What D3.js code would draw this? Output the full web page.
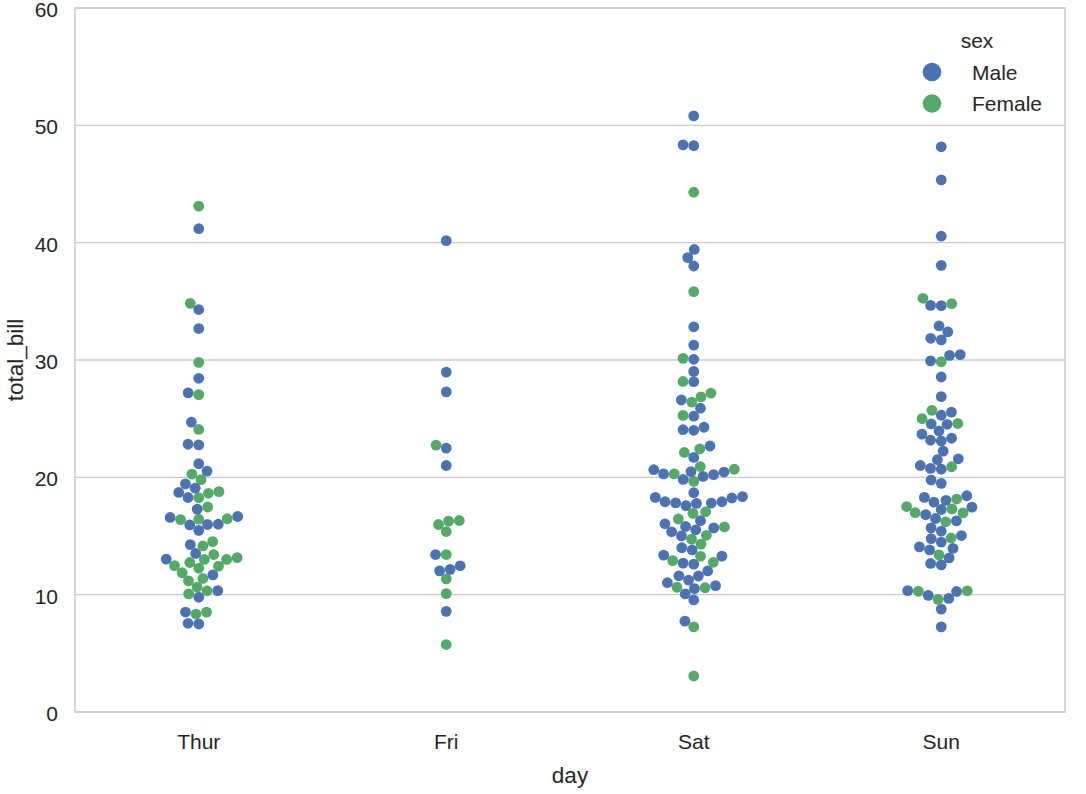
<!DOCTYPE html>
<html>
<head>
<meta charset="utf-8">
<script src="https://cdn.jsdelivr.net/npm/d3@7"></script>
<style>
  html, body { margin: 0; padding: 0; background: #fff; }
  svg { display: block; font-family: "Liberation Sans", Arial, Helvetica, sans-serif; }
</style>
</head>
<body>
<svg id="chart" width="1086" height="794"></svg>
<script>
// ---- data (total_bill by day, with sex; M = Male, F = Female) ----
const days = ["Thur", "Fri", "Sat", "Sun"];
const sexes = ["Male", "Female"];
const yTicks = [0, 10, 20, 30, 40, 50, 60];

const thurBill = [27.20,22.76,17.29,19.44,16.66,10.07,32.68,15.98,34.83,13.03,18.28,24.71,21.16,
  10.65,12.43,24.08,11.69,13.42,14.26,15.95,12.48,29.80,8.52,14.52,11.38,22.82,19.08,20.27,11.17,12.26,18.26,8.51,10.33,14.15,16.00,13.16,17.47,34.30,41.19,27.05,16.43,8.35,18.64,11.87,9.78,7.51,
  19.81,28.44,15.48,16.58,7.56,10.34,43.11,13.00,13.51,18.71,12.74,13.00,16.40,20.53,16.47,18.78];
const thurSex = ["M","M","M","M","M","F","M","M","F","M","M","M","M",
  "F","F","F","M","F","M","M","F","F","M","F","F","M","M","F","F","F","F","F","F","F","M","F","F","M","M","F","F","F","F","F","M","M",
  "F","M","M","M","M","M","F","F","M","M","F","F","F","M","F","F"];

const friBill = [28.97,22.49,5.75,16.32,22.75,40.17,27.28,12.03,21.01,12.46,11.35,15.38,
  12.16,13.42,8.58,15.98,13.42,16.27,10.09];
const friSex = ["M","M","F","F","F","M","M","M","M","M","F","F",
  "M","F","M","F","M","F","F"];

const satBill = [20.65,17.92,20.29,15.77,39.42,19.82,17.81,13.37,12.69,21.70,19.65,9.55,18.35,15.06,20.69,17.78,24.06,16.31,16.93,18.69,31.27,16.04,
  38.01,26.41,11.24,48.27,20.29,13.81,11.02,18.29,17.59,20.08,16.45,3.07,20.23,15.01,12.02,17.07,26.86,25.28,14.73,10.51,17.92,
  44.30,22.42,20.92,15.36,20.49,25.21,18.24,14.31,14.00,7.25,
  10.59,10.63,50.81,15.81,
  26.59,38.73,24.27,12.76,30.06,25.89,48.33,13.27,28.17,12.90,28.15,11.59,7.74,30.14,
  20.45,13.28,22.12,24.01,15.69,11.61,10.77,15.53,10.07,12.60,32.83,35.83,29.03,27.18,22.67,17.82];
const satSex = ["M","M","F","F","M","M","M","M","M","M","F","M","M","F","F","M","M","M","F","M","M","M",
  "M","F","M","M","M","M","M","M","M","M","F","F","M","M","M","F","F","F","F","M","M",
  "F","F","F","M","M","M","M","F","M","F",
  "F","F","M","M",
  "M","M","M","F","M","M","M","F","F","F","M","M","M","F",
  "M","M","F","M","M","M","M","M","M","M","M","F","M","F","M","M"];

const sunBill = [16.99,10.34,21.01,23.68,24.59,25.29,8.77,26.88,15.04,14.78,10.27,35.26,15.42,18.43,14.83,21.58,10.33,16.29,16.97,
  17.46,13.94,9.68,30.40,18.29,22.23,32.40,28.55,18.04,12.54,10.29,34.81,9.94,25.56,19.49,
  38.07,23.95,25.71,17.31,29.93,
  14.07,13.13,17.26,24.55,19.77,29.85,48.17,25.00,13.39,16.49,21.50,12.66,16.21,13.81,17.51,24.52,20.76,31.71,
  7.25,31.85,16.82,32.90,17.89,14.48,9.60,34.63,34.65,23.33,45.35,23.17,40.55,20.69,20.90,30.46,18.15,23.10,15.69];
const sunSex = ["F","M","M","M","F","M","M","M","M","M","M","F","M","M","F","M","F","M","F",
  "M","M","M","M","M","M","M","M","M","M","F","F","M","M","M",
  "M","M","F","F","M",
  "M","M","M","M","M","F","M","F","F","M","M","M","F","M","F","M","M","M",
  "M","M","M","M","M","M","F","M","M","M","M","M","M","M","F","M","F","M","M"];

const billsByDay = [thurBill, friBill, satBill, sunBill];
const sexByDay = [thurSex, friSex, satSex, sunSex];
const sexCode = { M: "Male", F: "Female" };

// ---- layout ----
const plot = { left: 75, right: 1065, top: 8, bottom: 712 };
const colors = { Male: "#4C72B0", Female: "#55A868" };
const textColor = "#262626";
const gridColor = "#cccccc";
const D = 10.2;       // swarm spacing diameter (px)
const R = 5.4;        // drawn marker radius

const svg = d3.select("#chart");

const x = d3.scaleBand().domain(days).range([plot.left, plot.right]).paddingInner(0).paddingOuter(0);
const y = d3.scaleLinear().domain([0, 60]).range([plot.bottom, plot.top]);

// grid
svg.append("g").selectAll("line").data(yTicks).join("line")
  .attr("x1", plot.left).attr("x2", plot.right)
  .attr("y1", d => y(d)).attr("y2", d => y(d))
  .attr("stroke", gridColor).attr("stroke-width", 1.3);

// frame
svg.append("rect")
  .attr("x", plot.left).attr("y", plot.top)
  .attr("width", plot.right - plot.left).attr("height", plot.bottom - plot.top)
  .attr("fill", "none").attr("stroke", gridColor).attr("stroke-width", 1.6);

// y tick labels
svg.append("g").selectAll("text").data(yTicks).join("text")
  .attr("x", 58).attr("y", d => y(d) + 9)
  .attr("text-anchor", "end").attr("font-size", 21).attr("fill", textColor)
  .text(d => d);

// x tick labels
svg.append("g").selectAll("text").data(days).join("text")
  .attr("x", d => x(d) + x.bandwidth() / 2).attr("y", 749)
  .attr("text-anchor", "middle").attr("font-size", 21).attr("fill", textColor)
  .text(d => d);

// axis labels
svg.append("text").attr("x", (plot.left + plot.right) / 2).attr("y", 783)
  .attr("text-anchor", "middle").attr("font-size", 22.5).attr("fill", textColor).text("day");
svg.append("text").attr("transform", `translate(23,${(plot.top + plot.bottom) / 2}) rotate(-90)`)
  .attr("text-anchor", "middle").attr("font-size", 22.5).attr("fill", textColor).text("total_bill");

// ---- beeswarm (seaborn-style, candidates sorted by centrality) ----
function beeswarm(pts, d) {
  if (!pts.length) return [];
  const mid = pts[0].px;
  const swarm = [ { px: pts[0].px, up: pts[0].up } ];
  for (let i = 1; i < pts.length; i++) {
    const p = pts[i];
    const neighbors = [];
    for (let j = swarm.length - 1; j >= 0; j--) {
      if (p.up - swarm[j].up < d) neighbors.unshift(swarm[j]);
      else break;
    }
    let cands = [[p.px, p.up]];
    let leftFirst = true;
    for (const n of neighbors) {
      const dy = p.up - n.up;
      const dx = Math.sqrt(Math.max(d * d - dy * dy, 0)) * 1.05;
      const cl = [n.px - dx, p.up], cr = [n.px + dx, p.up];
      if (leftFirst) cands.push(cl, cr); else cands.push(cr, cl);
      leftFirst = !leftFirst;
    }
    cands = cands.map((c, k) => ({ c, k, off: Math.abs(c[0] - mid) }))
      .sort((a, b) => (a.off - b.off) || (a.k - b.k)).map(o => o.c);
    let chosen = cands[0];
    if (neighbors.length) {
      for (const c of cands) {
        let ok = true;
        for (const n of neighbors) {
          const ddx = n.px - c[0], ddy = n.up - c[1];
          if (ddx * ddx + ddy * ddy < d * d - 1e-9) { ok = false; break; }
        }
        if (ok) { chosen = c; break; }
      }
    }
    swarm.push({ px: chosen[0], up: chosen[1] });
  }
  return swarm;
}

const pointsG = svg.append("g");
days.forEach((day, i) => {
  const cx = x(day) + x.bandwidth() / 2;
  const rows = billsByDay[i].map((v, k) => ({ v, sex: sexCode[sexByDay[i][k]] }));
  rows.sort((a, b) => a.v - b.v);
  const placed = beeswarm(rows.map(r => ({ px: cx, up: -y(r.v) })), D);
  const half = x.bandwidth() * 0.4;
  const data = rows.map((r, k) => ({
    sex: r.sex,
    px: Math.max(cx - half, Math.min(cx + half, placed[k].px)),
    py: -placed[k].up
  }));
  pointsG.append("g").selectAll("circle").data(data).join("circle")
    .attr("cx", d => d.px).attr("cy", d => d.py).attr("r", R)
    .attr("fill", d => colors[d.sex]);
});

// legend
const lg = svg.append("g");
lg.append("text").attr("x", 977).attr("y", 48).attr("text-anchor", "middle")
  .attr("font-size", 21).attr("fill", textColor).text("sex");
sexes.forEach((s, k) => {
  const cy = 72 + k * 31.5;
  lg.append("circle").attr("cx", 932).attr("cy", cy).attr("r", 9.3).attr("fill", colors[s]);
  lg.append("text").attr("x", 972).attr("y", cy + 7.5).attr("font-size", 21)
    .attr("fill", textColor).text(s);
});
</script>
</body>
</html>
